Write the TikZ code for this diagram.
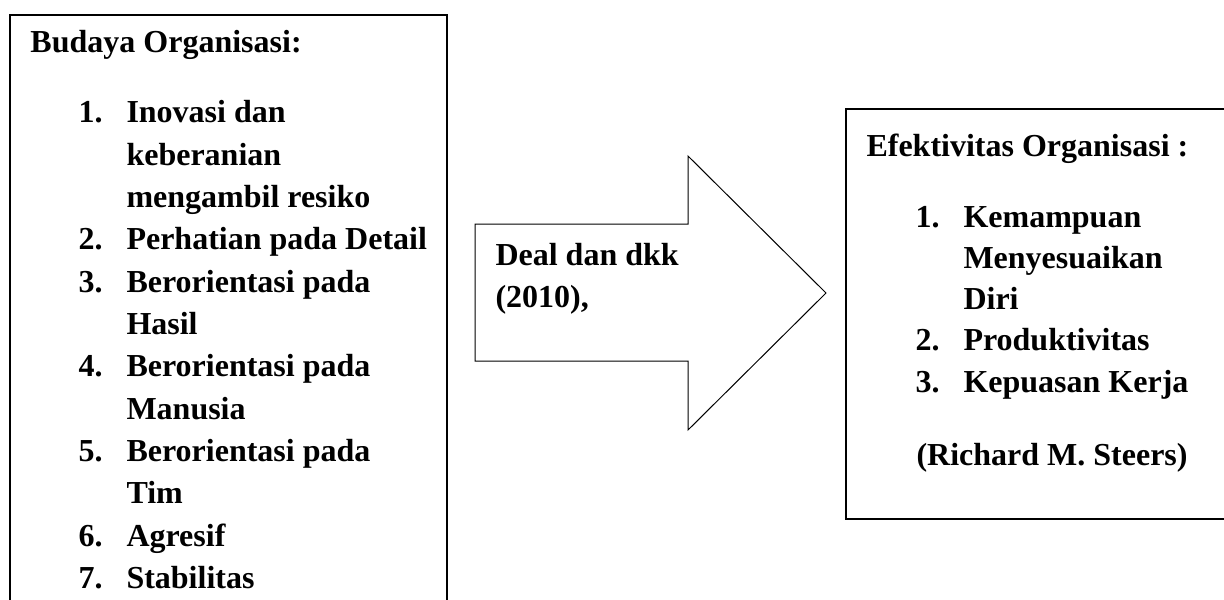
\documentclass[tikz,border=0pt]{standalone}
\usepackage{fontspec}
\setmainfont{Liberation Serif}
\tikzset{
	txt/.style={anchor=base west,inner sep=0pt},
	frame/.style={draw,line width=.5pt}
}
\begin{document}
\begin{tikzpicture}[x=0.4pt,y=-0.4pt,font=\fontsize{12.8}{16.8}\selectfont\bfseries]
	%
	\def\leftgap{42.3}
	\def\rightgap{41.3}
	\def\numwidth{19.2pt}
	\clip (0,0) rectangle (1224,599);
	% boxes
		\draw [frame] (10,15) rectangle (447,640);
		\draw [frame] (846,109) rectangle (1240,519);
	% arrow
		\draw [line width=.4pt] (475,224) -- (688,224) -- (688,156) -- (826,293)
			-- (688,430) -- (688,361) -- (475,361) -- cycle;
		\node [txt,align=left] (deal) at (495,307) {Deal dan dkk\\(2010),};
	% budaya organisasi
		\node [txt] (budaya) at (30,53) {Budaya Organisasi:};
		\foreach \n/\t [count=\i] in {1./Inovasi dan,/keberanian,/mengambil resiko,%
				2./Perhatian pada Detail,3./Berorientasi pada,/Hasil,%
				4./Berorientasi pada,/Manusia,5./Berorientasi pada,/Tim,%
				6./Agresif,7./Stabilitas}
			\node [txt] (budaya\i) at (78,{123+(\i-1)*\leftgap}) {\makebox[\numwidth][l]{\n}\t};
	% efektivitas organisasi
		\node [txt] (efektif) at (866,156) {Efektivitas Organisasi :};
		\foreach \n/\t [count=\i] in {1./Kemampuan,/Menyesuaikan,/Diri,%
				2./Produktivitas,3./Kepuasan Kerja}
			\node [txt] (efektif\i) at (915,{227+(\i-1)*\rightgap}) {\makebox[\numwidth][l]{\n}\t};
		\node [txt] (steers) at (916,465) {(Richard M. Steers)};
\end{tikzpicture}
\end{document}
